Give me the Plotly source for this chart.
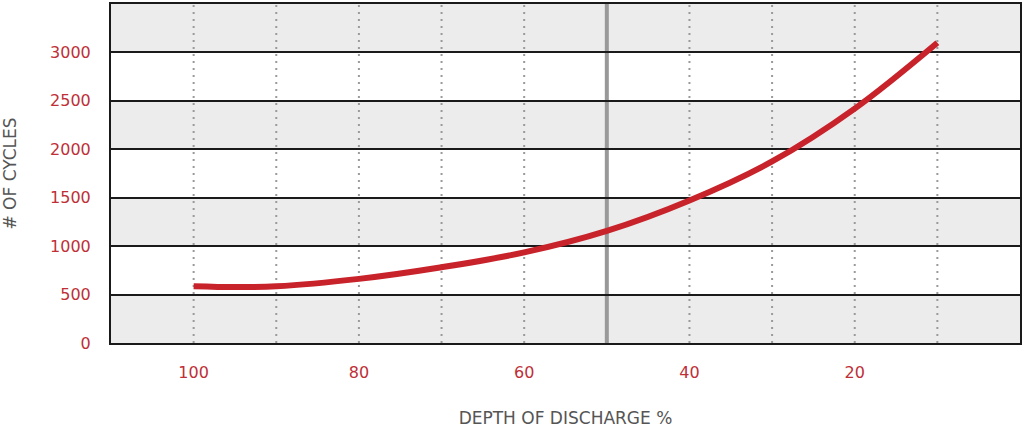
import plotly.graph_objects as go

# Data
dod = [100, 95, 90, 80, 70, 60, 50, 40, 30, 20, 10]
cycles = [587, 578, 585, 662, 782, 935, 1157, 1471, 1874, 2420, 3100]

x_ticks = [100, 80, 60, 40, 20]
y_ticks = [0, 500, 1000, 1500, 2000, 2500, 3000]
dotted_grid = [100, 90, 80, 70, 60, 40, 30, 20, 10]
solid_marker = 50
x_range = [110, 0]
y_range = [0, 3500]

RED = "#c8232b"
TICK_RED = "#be2f37"
FONT = "DejaVu Sans"

fig = go.Figure()
fig.add_trace(go.Scatter(
    x=dod, y=cycles, mode="lines",
    line=dict(color=RED, width=6, shape="spline", smoothing=1.0),
    hoverinfo="skip", showlegend=False,
))

shapes = []
# alternating bands: gray below, white above
bounds = y_ticks + [y_range[1]]
for i in range(len(bounds) - 1):
    col = "#ececec" if i % 2 == 0 else "#ffffff"
    shapes.append(dict(type="rect", xref="paper", yref="y", x0=0, x1=1,
                       y0=bounds[i], y1=bounds[i + 1], fillcolor=col,
                       line=dict(width=0), layer="below"))
for v in dotted_grid:
    shapes.append(dict(type="line", xref="x", yref="paper", x0=v, x1=v, y0=0, y1=1,
                       line=dict(color="#9a9a9a", width=2, dash="2px,5px"), layer="below"))
shapes.append(dict(type="line", xref="x", yref="paper", x0=solid_marker, x1=solid_marker,
                   y0=0, y1=1, line=dict(color="#999999", width=4), layer="below"))

fig.update_layout(
    width=1024, height=428,
    margin=dict(l=111, r=3, t=2, b=85),
    paper_bgcolor="white", plot_bgcolor="white",
    font=dict(family=FONT, color=TICK_RED, size=14),
    shapes=shapes,
    xaxis=dict(
        range=x_range, tickvals=x_ticks, ticktext=[str(v) for v in x_ticks],
        showgrid=False, zeroline=False, showline=True, mirror=True,
        linecolor="#1a1a1a", linewidth=2, ticks="", ticklabelstandoff=14,
        tickfont=dict(family=FONT, color=TICK_RED, size=16),
        title=dict(text="DEPTH OF DISCHARGE %", standoff=32,
                   font=dict(family=FONT, color="#555555", size=17)),
    ),
    yaxis=dict(
        range=y_range, tickvals=y_ticks, ticktext=[str(v) for v in y_ticks],
        showgrid=True, gridcolor="#1a1a1a", gridwidth=2, zeroline=False,
        showline=True, mirror=True, linecolor="#1a1a1a", linewidth=2, ticks="",
        ticklabelstandoff=15,
        tickfont=dict(family=FONT, color=TICK_RED, size=16),
        title=dict(text="# OF CYCLES", standoff=36,
                   font=dict(family=FONT, color="#555555", size=17)),
    ),
)

fig.write_html("out.html", config={"displayModeBar": False},
               post_script="document.body.style.margin='0px';")
